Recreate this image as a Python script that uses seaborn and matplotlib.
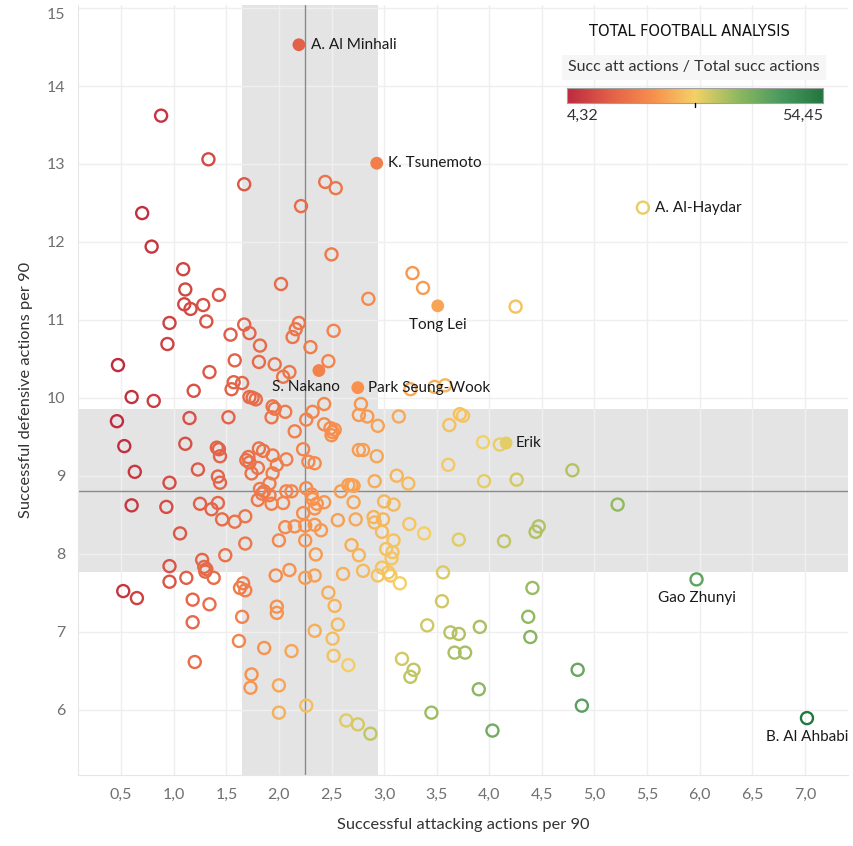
import pandas as pd
import seaborn as sns
import matplotlib.pyplot as plt
from matplotlib.colors import LinearSegmentedColormap
from matplotlib.patches import Rectangle
import numpy as np

# successful attacking actions per 90 (unnamed players)
att_p90 = [
    0.88, 1.33, 1.67, 0.70, 0.79, 1.09, 2.02, 1.11, 1.43, 1.10, 1.16, 1.28, 0.96, 1.31, 0.94, 1.54,
    1.67, 1.72, 1.82, 1.58, 1.81, 1.96, 0.47, 1.34, 2.10, 2.04, 1.57, 1.65, 1.55, 1.19, 0.60, 0.81,
    1.72, 1.75, 1.78, 2.44, 2.54, 2.21, 2.50, 3.27, 3.37, 4.25, 2.85, 2.19, 2.16, 2.13, 2.52, 2.30,
    2.47, 3.25, 3.48, 3.58,
    1.52, 1.15, 0.46, 1.11, 0.53, 1.41, 1.43, 1.44, 1.23, 0.63, 1.42, 1.44, 0.96, 0.60, 0.93, 1.25,
    1.36, 1.42, 1.46, 1.58, 1.06, 1.49, 1.27, 1.29, 1.31, 1.30, 0.96, 0.96, 1.12, 1.38, 0.52, 0.65,
    1.18, 1.18, 1.34, 1.20,
    1.94, 1.96, 1.93, 2.06, 2.43, 2.32, 2.26, 2.15, 2.43, 2.49, 2.51, 2.50, 2.53, 2.78, 2.76, 2.84,
    2.94, 3.14, 2.23, 2.28, 2.34, 2.76, 2.80, 2.93, 2.07, 1.94, 1.98, 1.85, 1.81, 1.71, 1.69, 1.72,
    1.80, 1.74, 1.94, 1.91, 3.12, 3.23, 2.91, 1.82, 1.86, 1.84, 1.91, 1.93, 1.80, 2.07, 2.12, 2.04,
    2.26, 2.31, 2.32, 2.36, 2.43, 2.34, 2.59, 2.66, 2.69, 2.71, 2.71, 3.00, 3.09, 2.23, 1.68, 2.06,
    2.15, 2.25, 2.34, 2.40, 2.56, 2.73, 2.90, 2.91, 2.99, 2.98, 3.24, 1.68, 2.00, 2.25, 2.69, 2.76,
    2.35, 3.02, 3.09, 3.08,
    2.98, 3.04, 3.06, 2.94, 3.15, 2.80, 2.61, 2.25, 2.34, 2.10, 1.97, 1.66, 1.63, 1.68, 2.47, 2.53,
    2.56, 2.34, 2.51, 2.52, 2.66, 1.65, 1.62, 1.86, 2.12, 1.98, 1.98, 1.74, 1.73, 2.00, 2.00, 2.26,
    2.64, 2.75, 2.87, 3.07,
    3.72, 3.75, 3.62, 3.94, 4.10, 3.61, 4.26, 3.95, 3.38, 3.71, 4.14, 4.44, 4.47, 3.56, 3.55, 3.41,
    3.63, 3.71, 3.91, 3.67, 3.77, 3.17, 3.28, 3.25, 3.90, 3.45, 4.03, 4.41, 4.37, 4.39, 4.79, 5.22,
    4.84, 4.88,
]

# successful defensive actions per 90 (unnamed players)
def_p90 = [
    13.62, 13.06, 12.74, 12.37, 11.94, 11.65, 11.46, 11.39, 11.32, 11.20, 11.14, 11.19, 10.96, 10.98, 10.69, 10.81,
    10.94, 10.83, 10.67, 10.48, 10.46, 10.43, 10.42, 10.33, 10.33, 10.27, 10.20, 10.19, 10.11, 10.09, 10.01, 9.96,
    10.01, 10.00, 9.98, 12.77, 12.69, 12.46, 11.84, 11.60, 11.41, 11.17, 11.27, 10.96, 10.88, 10.78, 10.86, 10.65,
    10.47, 10.11, 10.14, 10.16,
    9.75, 9.74, 9.70, 9.41, 9.38, 9.36, 9.34, 9.25, 9.08, 9.05, 8.99, 8.91, 8.91, 8.62, 8.60, 8.64,
    8.57, 8.65, 8.44, 8.41, 8.26, 7.98, 7.92, 7.83, 7.80, 7.77, 7.84, 7.64, 7.69, 7.69, 7.52, 7.43,
    7.41, 7.12, 7.35, 6.61,
    9.89, 9.86, 9.75, 9.82, 9.92, 9.82, 9.72, 9.57, 9.66, 9.61, 9.56, 9.52, 9.59, 9.92, 9.78, 9.76,
    9.64, 9.76, 9.34, 9.18, 9.16, 9.33, 9.33, 9.25, 9.21, 9.26, 9.14, 9.32, 9.35, 9.24, 9.20, 9.17,
    9.10, 9.03, 9.03, 8.90, 9.00, 8.90, 8.93, 8.83, 8.80, 8.77, 8.75, 8.64, 8.69, 8.80, 8.80, 8.65,
    8.84, 8.76, 8.70, 8.64, 8.66, 8.58, 8.80, 8.88, 8.88, 8.87, 8.66, 8.67, 8.63, 8.52, 8.48, 8.34,
    8.35, 8.36, 8.37, 8.30, 8.43, 8.44, 8.47, 8.40, 8.44, 8.28, 8.38, 8.13, 8.17, 8.17, 8.11, 7.98,
    7.99, 8.06, 8.17, 8.02,
    7.82, 7.76, 7.72, 7.72, 7.62, 7.78, 7.74, 7.69, 7.72, 7.79, 7.72, 7.62, 7.56, 7.53, 7.50, 7.33,
    7.09, 7.01, 6.91, 6.69, 6.57, 7.19, 6.88, 6.79, 6.75, 7.32, 7.24, 6.45, 6.28, 6.31, 5.96, 6.05,
    5.86, 5.81, 5.69, 7.94,
    9.79, 9.77, 9.65, 9.43, 9.40, 9.14, 8.95, 8.93, 8.26, 8.18, 8.16, 8.28, 8.35, 7.76, 7.39, 7.08,
    6.99, 6.97, 7.06, 6.73, 6.73, 6.65, 6.51, 6.42, 6.26, 5.96, 5.73, 7.56, 7.19, 6.93, 9.07, 8.63,
    6.51, 6.05,
]

# highlighted players
named_players = ['A. Al Minhali', 'K. Tsunemoto', 'A. Al-Haydar', 'Tong Lei', 'S. Nakano',
                 'Park Seung-Wook', 'Erik', 'Gao Zhunyi', 'B. Al Ahbabi']
named_att = [2.19, 2.93, 5.46, 3.51, 2.38, 2.75, 4.16, 5.97, 7.02]
named_def = [14.53, 13.01, 12.44, 11.18, 10.35, 10.13, 9.42, 7.67, 5.89]
named_filled = [True, True, False, True, True, True, True, False, False]

# axis ticks
x_ticks = [0.5, 1.0, 1.5, 2.0, 2.5, 3.0, 3.5, 4.0, 4.5, 5.0, 5.5, 6.0, 6.5, 7.0]
y_ticks = [6, 7, 8, 9, 10, 11, 12, 13, 14, 15]

# averages and +/- 1 std bands
avg_att, avg_def = 2.25, 8.80
band_att = (1.65, 2.94)
band_def = (7.76, 9.85)

# colour scale range (succ att / total succ, %)
ratio_min, ratio_max = 4.32, 54.45

cmap = LinearSegmentedColormap.from_list(
    'rgg', ['#be2a3e', '#e25f48', '#f88f4d', '#f4d166', '#90b960', '#4b9b5f', '#22763f'])

sns.set_style('white')
plt.rcParams['font.family'] = ['Lato', 'DejaVu Sans']

df = pd.DataFrame({
    'att': att_p90 + named_att,
    'def': def_p90 + named_def,
    'filled': [False] * len(att_p90) + named_filled,
})
df['ratio'] = df['att'] / (df['att'] + df['def']) * 100

fig = plt.figure(figsize=(8.54, 8.46), dpi=100)
ax = fig.add_axes([78 / 854, 71 / 846, 770 / 854, 770 / 846])

ax.axvspan(*band_att, color='#e4e4e4', lw=0, zorder=0.1)
ax.axhspan(*band_def, color='#e4e4e4', lw=0, zorder=0.1)
ax.set_axisbelow(True)
ax.grid(True, color='#efefef', lw=1)
ax.axvline(avg_att, color='#8a8a8a', lw=1, zorder=1)
ax.axhline(avg_def, color='#8a8a8a', lw=1, zorder=1)

# open circles
df_open = df[~df['filled']]
sns.scatterplot(data=df_open, x='att', y='def', hue='ratio', palette=cmap,
                hue_norm=(ratio_min, ratio_max), legend=False, s=75, ax=ax, zorder=3)
coll = ax.collections[-1]
fc = coll.get_facecolors()
coll.set_facecolor('none')
coll.set_edgecolors(fc)
coll.set_linewidth(1.7)

# filled circles
df_fill = df[df['filled']]
sns.scatterplot(data=df_fill, x='att', y='def', hue='ratio', palette=cmap,
                hue_norm=(ratio_min, ratio_max), legend=False, s=85, linewidth=0, ax=ax, zorder=4)

label_place = {
    'A. Al Minhali': ((8.5, 0), 'left'),
    'K. Tsunemoto': ((8, 0), 'left'),
    'A. Al-Haydar': ((8.5, 0), 'left'),
    'Tong Lei': ((0, -13.5), 'center'),
    'S. Nakano': ((-9.5, -12), 'center'),
    'Park Seung-Wook': ((7, 0), 'left'),
    'Erik': ((6.5, 0), 'left'),
    'Gao Zhunyi': ((0, -13.5), 'center'),
    'B. Al Ahbabi': ((0, -13.5), 'center'),
}
for name, xv, yv in zip(named_players, named_att, named_def):
    off, ha = label_place[name]
    ax.annotate(name, (xv, yv), xytext=off, textcoords='offset points',
                ha=ha, va='center', fontsize=11, color='#1a1a1a', zorder=5)

ax.set_xlim(0.09, 7.41)
ax.set_ylim(5.16, 15.04)
ax.set_xticks(x_ticks)
ax.set_xticklabels([f'{t:.1f}'.replace('.', ',') for t in x_ticks])
ax.set_yticks(y_ticks)
ax.set_yticklabels([str(t) for t in y_ticks])
ax.tick_params(length=0, pad=9, labelsize=11.5, labelcolor='#707070')
ax.get_yticklabels()[-1].set_va('top')
for side in ['top', 'right']:
    ax.spines[side].set_visible(False)
for side in ['left', 'bottom']:
    ax.spines[side].set_color('#e6e6e6')
ax.set_xlabel('Successful attacking actions per 90', fontsize=11.8, color='#333333', labelpad=12)
ax.set_ylabel('Successful defensive actions per 90', fontsize=11.8, color='#333333', labelpad=10)

# logo
fig.text(689 / 854, 1 - 32 / 846, 'TOTAL FOOTBALL ANALYSIS', ha='center', va='center',
         fontsize=10.5, color='#111111', family=['DejaVu Sans'])

# colour legend
fig.patches.append(Rectangle((562 / 854, 1 - 80 / 846), 264 / 854, 25 / 846,
                             transform=fig.transFigure, facecolor='#f6f6f6', edgecolor='none'))
fig.text(694 / 854, 1 - 67 / 846, 'Succ att actions / Total succ actions', ha='center', va='center',
         fontsize=11.5, color='#333333')
cax = fig.add_axes([567 / 854, 1 - 103 / 846, 256 / 854, 15 / 846])
cax.imshow(np.linspace(0, 1, 256)[None, :], aspect='auto', cmap=cmap)
cax.set_xticks([])
cax.set_yticks([])
for sp in cax.spines.values():
    sp.set_color('#a0a0a0')
fig.add_artist(plt.Line2D([695 / 854, 695 / 854], [1 - 103 / 846, 1 - 107 / 846], color='black', lw=1))
fig.text(567 / 854, 1 - 116 / 846, f'{ratio_min:.2f}'.replace('.', ','), ha='left', va='center',
         fontsize=11.5, color='#333333')
fig.text(823 / 854, 1 - 116 / 846, f'{ratio_max:.2f}'.replace('.', ','), ha='right', va='center',
         fontsize=11.5, color='#333333')

fig.savefig('out.png', dpi=100)
